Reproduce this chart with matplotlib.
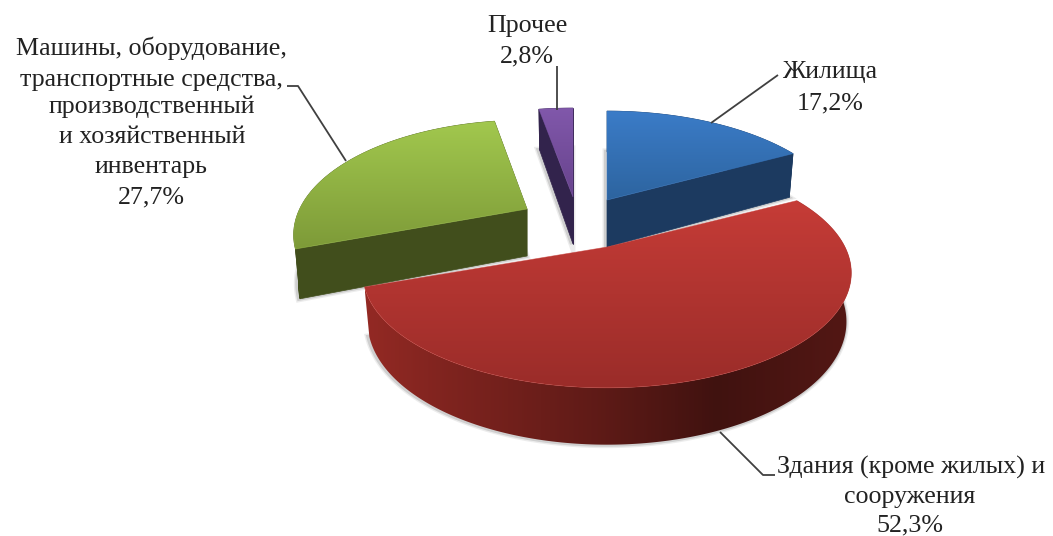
import numpy as np
import matplotlib
matplotlib.use("Agg")
import matplotlib.pyplot as plt
from matplotlib.colors import to_rgb
from matplotlib.patches import Polygon

plt.rcParams['font.family'] = ['Liberation Serif', 'DejaVu Serif']

# data
categories = ["Жилища", "Здания (кроме жилых) и сооружения",
              "Машины, оборудование, транспортные средства, производственный и хозяйственный инвентарь",
              "Прочее"]
shares = [17.2, 52.3, 27.7, 2.8]
share_labels = ["17,2%", "52,3%", "27,7%", "2,8%"]

# layout, in image pixels
apex = [(607, 200), (607, 247), (527, 209), (573, 197)]
x_scale = [0.98, 1.0, 0.955, 1.0]
A, B, K = 238.0, 109.0, 0.226   # ellipse half axes and perspective
DROP = 47.0
draw_order = [0, 3, 2, 1]

top_colors = [("#3b7cc8", "#2d649f"), ("#c63c37", "#9a2c29"),
              ("#a2c84e", "#7d9a38"), ("#8158ab", "#67438c")]
side_colors = ["#1c3a60", "#6b1e1a", "#414e1c", "#32234c"]
# rim of the big slice gets darker towards the right
rim_x = [362, 450, 600, 716, 790, 851]
rim_f = [1.38, 1.18, 0.88, 0.60, 0.70, 0.78]

# label lines: text, centre x, centre y
label_lines = [
    ("Машины, оборудование,", 151, 48), ("транспортные средства,", 151, 80),
    ("производственный", 152, 107), ("и хозяйственный", 152, 137),
    ("инвентарь", 151, 167), (share_labels[2], 151, 197),
    ("Прочее", 527, 26), (share_labels[3], 527, 56),
    ("Жилища", 830, 72), (share_labels[0], 830, 103),
    ("Здания (кроме жилых) и", 911, 467), ("сооружения", 910, 497), (share_labels[1], 910, 525),
]
leaders = [
    ([557, 557], [110, 66]),
    ([711, 778], [123, 75]),
    ([346, 298, 287], [161, 86, 86]),
    ([720, 763, 775], [432, 475, 475]),
]


def project(theta, sx):
    t = np.radians(theta)
    d = 1 + K * np.cos(t)
    return sx * A * np.sin(t) / d, -B * np.cos(t) / d


def rgb(h):
    return np.array(to_rgb(h))


def gradient_fill(ax, verts, colors, extent, z):
    im = ax.imshow(colors, extent=extent, aspect="auto", interpolation="bilinear", zorder=z)
    clip = Polygon(verts, closed=True, fc="none", ec="none", transform=ax.transData)
    ax.add_patch(clip)
    im.set_clip_path(clip)


fig = plt.figure(figsize=(10.53, 5.36), dpi=100)
ax = fig.add_axes([0, 0, 1, 1])
ax.axis("off")

edges = np.concatenate([[0], np.cumsum(shares)]) / sum(shares) * 360

# back slices first, the big red one goes last
for n, i in enumerate(draw_order):
    c = apex[i]
    z = 2 + n * 3
    th = np.linspace(edges[i], edges[i + 1], 200)
    dx, dy = project(th, x_scale[i])
    tx, ty = c[0] + dx, c[1] + dy
    bx, by = c[0] + 0.98 * dx, c[1] + DROP + 1.07 * dy
    base = rgb(side_colors[i])

    # soft shadow round the lower outline
    sx = np.concatenate([[c[0]], bx, [c[0]]])
    sy = np.concatenate([[c[1] + DROP], by, [c[1] + DROP]])
    for lw, al in [(5, 0.10), (3, 0.18)]:
        ax.add_patch(Polygon(np.column_stack([sx - 1, sy]), closed=True, fc="none",
                             ec=(0.3, 0.3, 0.3, al), lw=lw, zorder=z))

    # rim
    rim = np.column_stack([np.concatenate([tx, bx[::-1]]), np.concatenate([ty, by[::-1]])])
    if i == 1:
        cols = np.linspace(rim[:, 0].min(), rim[:, 0].max(), 256)
        f = np.interp(cols, rim_x, rim_f)
        strip = np.clip(f[None, :, None] * base, 0, 1)
        gradient_fill(ax, rim, strip, [cols[0], cols[-1], rim[:, 1].max() + 1, rim[:, 1].min() - 1], z + 1)
    else:
        ax.add_patch(Polygon(rim, closed=True, fc=base, ec=base, lw=0.5, zorder=z + 1))

    # radial faces, the red one has none in view
    if i != 1:
        for k in [0, -1]:
            q = [c, (tx[k], ty[k]), (bx[k], by[k]), (c[0], c[1] + DROP)]
            ax.add_patch(Polygon(q, closed=True, fc=base, ec=base, lw=0.5, zorder=z + 1))

    # top surface with a vertical gradient
    verts = np.column_stack([np.concatenate([[c[0]], tx]), np.concatenate([[c[1]], ty])])
    c0, c1 = rgb(top_colors[i][0]), rgb(top_colors[i][1])
    grad = np.linspace(0, 1, 128)[:, None, None] * (c1 - c0) + c0
    gradient_fill(ax, verts, grad,
                  [verts[:, 0].min() - 1, verts[:, 0].max() + 1, verts[:, 1].max() + 1, verts[:, 1].min() - 1],
                  z + 2)
    ax.add_patch(Polygon(verts, closed=True, fc="none", ec=tuple(c0), lw=0.5, alpha=0.6, zorder=z + 2))

ax.set_xlim(0, 1053)
ax.set_ylim(536, 0)

for xs, ys in leaders:
    ax.plot(xs, ys, color="#404040", lw=1.3, zorder=20, solid_capstyle="butt")

for txt, x, y in label_lines:
    ax.text(x, y, txt, ha="center", va="center", fontsize=18.7, color="#222222", zorder=21)

fig.savefig("out.png", dpi=100, facecolor="white")
